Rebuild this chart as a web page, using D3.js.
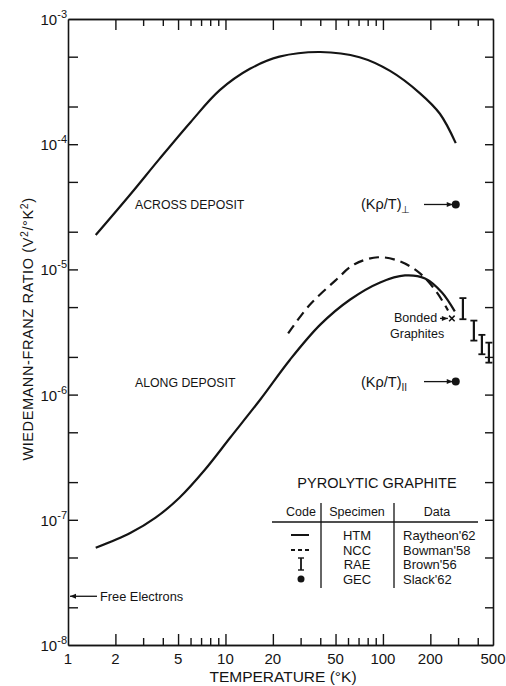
<!DOCTYPE html>
<html>
<head>
<meta charset="utf-8">
<script src="https://cdn.jsdelivr.net/npm/d3@7"></script>
<style>
  html, body { margin: 0; padding: 0; background: #fff; }
  svg { display: block; }
  text { font-family: "Liberation Sans", Arial, sans-serif; fill: #141414; }
</style>
</head>
<body>
<svg id="chart" width="506" height="686"></svg>
<script>
// Pyrolytic graphite: Wiedemann-Franz ratio vs temperature

// HTM (Raytheon '62), across the deposit
const T_ACROSS = [1.5, 2.5, 3.8, 6, 9.2, 14.3, 22, 40, 71, 111, 172, 230, 290];
const V_ACROSS = [1.88e-5, 4.0e-5, 7.6e-5, 1.5e-4, 2.7e-4, 4.0e-4, 5.0e-4, 5.45e-4, 4.95e-4, 3.85e-4, 2.55e-4, 1.75e-4, 1.02e-4];

// HTM (Raytheon '62), along the deposit
const T_ALONG = [1.5, 2.5, 3.6, 5.1, 7.4, 10.7, 16.6, 25.7, 40, 62, 96, 138, 185, 237, 286];
const V_ALONG = [5.97e-8, 7.87e-8, 1.04e-7, 1.5e-7, 2.51e-7, 4.52e-7, 9.1e-7, 1.9e-6, 3.62e-6, 5.75e-6, 7.87e-6, 8.95e-6, 8.47e-6, 6.55e-6, 4.62e-6];

// NCC (Bowman '58)
const T_NCC = [25, 34, 50, 66, 93, 128, 172, 220, 259];
const V_NCC = [3.08e-6, 5.15e-6, 8.17e-6, 1.1e-5, 1.25e-5, 1.16e-5, 9.3e-6, 6.55e-6, 4.7e-6];

// RAE (Brown '56), bonded graphites, with ranges
const T_RAE = [322, 378, 425, 471];
const V_RAE_HIGH = [5.9e-6, 3.9e-6, 3.0e-6, 2.6e-6];
const V_RAE_LOW = [4.0e-6, 2.7e-6, 2.1e-6, 1.8e-6];

// Bonded graphite point
const T_BONDED = [274];
const V_BONDED = [4.06e-6];

// GEC (Slack '62), (K rho / T) at room temperature
const T_GEC = [290, 290];
const V_GEC = [3.3e-5, 1.27e-6];

// Free-electron Lorenz number
const L_FREE = 2.45e-8;

// Axis ticks
const X_MAJOR = [2, 5, 10, 20, 50, 100, 200];
const X_MINOR = [3, 4, 6, 7, 8, 9, 30, 40, 60, 70, 80, 90, 300, 400];
const X_LABELS = [1, 2, 5, 10, 20, 50, 100, 200, 500];
const Y_TICKS = [2e-8, 5e-8, 1e-7, 2e-7, 5e-7, 1e-6, 2e-6, 5e-6, 1e-5, 2e-5, 5e-5, 1e-4, 2e-4, 5e-4];
const Y_LABEL_EXP = [-3, -4, -5, -6, -7, -8];

// Legend table
const LEGEND_CODES = ["solid", "dashed", "bar", "dot"];
const LEGEND_SPECIMEN = ["HTM", "NCC", "RAE", "GEC"];
const LEGEND_DATA = ["Raytheon'62", "Bowman'58", "Brown'56", "Slack'62"];

const INK = "#141414";
const svg = d3.select("#chart");

const x = d3.scaleLog().domain([1, 500]).range([68, 493]);
const y = d3.scaleLog().domain([1e-8, 1e-3]).range([645, 19]);

// ---- axes ----
function styleAxis(g) {
  g.selectAll("path.domain").attr("stroke", INK).attr("stroke-width", 1.6);
  g.selectAll(".tick line").attr("stroke", INK).attr("stroke-width", 1.4);
}

const axBottom = svg.append("g").attr("transform", `translate(0,${y.range()[0]})`);
axBottom.call(d3.axisBottom(x).tickValues(X_MINOR).tickSize(-7).tickSizeOuter(0).tickFormat(""));
styleAxis(axBottom);
const axBottomMajor = svg.append("g").attr("transform", `translate(0,${y.range()[0]})`);
axBottomMajor.call(d3.axisBottom(x).tickValues(X_MAJOR).tickSize(-11).tickSizeOuter(0).tickFormat(""));
styleAxis(axBottomMajor);

const axTop = svg.append("g").attr("transform", `translate(0,${y.range()[1]})`);
axTop.call(d3.axisTop(x).tickValues(X_MINOR).tickSize(-7).tickSizeOuter(0).tickFormat(""));
styleAxis(axTop);
const axTopMajor = svg.append("g").attr("transform", `translate(0,${y.range()[1]})`);
axTopMajor.call(d3.axisTop(x).tickValues(X_MAJOR).tickSize(-11).tickSizeOuter(0).tickFormat(""));
styleAxis(axTopMajor);

const axLeft = svg.append("g").attr("transform", `translate(${x.range()[0]},0)`);
axLeft.call(d3.axisLeft(y).tickValues(Y_TICKS).tickSize(-10).tickSizeOuter(0).tickFormat(""));
styleAxis(axLeft);

const axRight = svg.append("g").attr("transform", `translate(${x.range()[1]},0)`);
axRight.call(d3.axisRight(y).tickValues(Y_TICKS).tickSize(-8).tickSizeOuter(0).tickFormat(""));
styleAxis(axRight);

// x tick labels
svg.append("g").selectAll("text").data(X_LABELS).join("text")
  .attr("x", d => x(d)).attr("y", 664)
  .attr("text-anchor", "middle").attr("font-size", 15)
  .text(d => d);

// y tick labels with exponents
const yl = svg.append("g").selectAll("text").data(Y_LABEL_EXP).join("text")
  .attr("x", 67).attr("y", d => y(Math.pow(10, d)) + 6)
  .attr("text-anchor", "end").attr("font-size", 15);
yl.append("tspan").text("10");
yl.append("tspan").attr("dy", -7).attr("font-size", 11).text(d => d);

// axis titles
svg.append("text")
  .attr("x", 283).attr("y", 682).attr("text-anchor", "middle").attr("font-size", 15.5)
  .text("TEMPERATURE (°K)");

const yt = svg.append("text")
  .attr("transform", "translate(33,329) rotate(-90)")
  .attr("text-anchor", "middle").attr("font-size", 14.5).attr("letter-spacing", 0.6);
yt.append("tspan").text("WIEDEMANN-FRANZ RATIO  (V");
yt.append("tspan").attr("dy", -5).attr("font-size", 10.5).text("2");
yt.append("tspan").attr("dy", 5).text("/°K");
yt.append("tspan").attr("dy", -5).attr("font-size", 10.5).text("2");
yt.append("tspan").attr("dy", 5).text(")");

// ---- curves ----
const line = d3.line().x(d => x(d[0])).y(d => y(d[1])).curve(d3.curveCatmullRom.alpha(0.5));

svg.append("path").datum(d3.zip(T_ACROSS, V_ACROSS))
  .attr("d", line).attr("fill", "none").attr("stroke", INK).attr("stroke-width", 2.2);
svg.append("path").datum(d3.zip(T_ALONG, V_ALONG))
  .attr("d", line).attr("fill", "none").attr("stroke", INK).attr("stroke-width", 2.2);
svg.append("path").datum(d3.zip(T_NCC, V_NCC))
  .attr("d", line).attr("fill", "none").attr("stroke", INK).attr("stroke-width", 2.2)
  .attr("stroke-dasharray", "10,6");

// RAE bars
const bars = svg.append("g").selectAll("g").data(d3.range(T_RAE.length)).join("g");
bars.append("line")
  .attr("x1", i => x(T_RAE[i])).attr("x2", i => x(T_RAE[i]))
  .attr("y1", i => y(V_RAE_HIGH[i])).attr("y2", i => y(V_RAE_LOW[i]))
  .attr("stroke", INK).attr("stroke-width", 2.2);
bars.selectAll("line.cap").data(i => [[T_RAE[i], V_RAE_HIGH[i]], [T_RAE[i], V_RAE_LOW[i]]]).join("line")
  .attr("class", "cap")
  .attr("x1", d => x(d[0]) - 3.5).attr("x2", d => x(d[0]) + 3.5)
  .attr("y1", d => y(d[1])).attr("y2", d => y(d[1]))
  .attr("stroke", INK).attr("stroke-width", 1.8);

// Bonded graphite marker
svg.append("g").selectAll("path").data(d3.zip(T_BONDED, V_BONDED)).join("path")
  .attr("transform", d => `translate(${x(d[0])},${y(d[1])})`)
  .attr("d", d3.symbol(d3.symbolTimes, 22)).attr("stroke", INK).attr("stroke-width", 1.5).attr("fill", "none");

// GEC points
svg.append("g").selectAll("circle").data(d3.zip(T_GEC, V_GEC)).join("circle")
  .attr("cx", d => x(d[0])).attr("cy", d => y(d[1])).attr("r", 4).attr("fill", INK);

// ---- annotations ----
function arrow(x1, y1, x2, y2) {
  svg.append("line").attr("x1", x1).attr("y1", y1).attr("x2", x2).attr("y2", y2)
    .attr("stroke", INK).attr("stroke-width", 1.3);
  const dir = Math.sign(x2 - x1);
  svg.append("path")
    .attr("d", `M${x2},${y2} L${x2 - dir * 6},${y2 - 2.5} L${x2 - dir * 6},${y2 + 2.5} Z`)
    .attr("fill", INK);
}

svg.append("text").attr("x", 135).attr("y", y(3.3e-5) + 5).attr("font-size", 12.3).text("ACROSS DEPOSIT");
svg.append("text").attr("x", 135).attr("y", y(1.27e-6) + 5).attr("font-size", 12.3).text("ALONG DEPOSIT");

const kPerp = svg.append("text").attr("x", 361).attr("y", y(V_GEC[0]) + 5).attr("font-size", 14.5);
kPerp.append("tspan").text("(Kρ/T)");
kPerp.append("tspan").attr("dy", 4).attr("font-size", 10).text("⊥");
arrow(424, y(V_GEC[0]), x(T_GEC[0]) - 3, y(V_GEC[0]));

const kPar = svg.append("text").attr("x", 361).attr("y", y(V_GEC[1]) + 5).attr("font-size", 14.5);
kPar.append("tspan").text("(Kρ/T)");
kPar.append("tspan").attr("dy", 4).attr("font-size", 10).text("II");
arrow(424, y(V_GEC[1]), x(T_GEC[1]) - 3, y(V_GEC[1]));

svg.append("text").attr("x", 394).attr("y", y(V_BONDED[0]) + 4).attr("font-size", 12.5).text("Bonded");
svg.append("text").attr("x", 390).attr("y", y(V_BONDED[0]) + 20).attr("font-size", 12.5).text("Graphites");
arrow(440, y(V_BONDED[0]), x(T_BONDED[0]) - 4, y(V_BONDED[0]));

svg.append("text").attr("x", 100).attr("y", y(L_FREE) + 5).attr("font-size", 12.8).text("Free Electrons");
arrow(97, y(L_FREE), x(1) + 2, y(L_FREE));

// ---- legend table ----
const leg = svg.append("g");
leg.append("text").attr("x", 377).attr("y", 488).attr("text-anchor", "middle").attr("font-size", 14.5)
  .text("PYROLYTIC GRAPHITE");
const colX = [301, 357, 403];
leg.append("text").attr("x", colX[0]).attr("y", 516).attr("text-anchor", "middle").attr("font-size", 12.5).text("Code");
leg.append("text").attr("x", colX[1]).attr("y", 516).attr("text-anchor", "middle").attr("font-size", 12.5).text("Specimen");
leg.append("text").attr("x", 437).attr("y", 516).attr("text-anchor", "middle").attr("font-size", 12.5).text("Data");
leg.append("line").attr("x1", 272).attr("x2", 478).attr("y1", 522).attr("y2", 522).attr("stroke", INK).attr("stroke-width", 1.3);
[321, 394].forEach(sx => leg.append("line").attr("x1", sx).attr("x2", sx).attr("y1", 503).attr("y2", 588)
  .attr("stroke", INK).attr("stroke-width", 1.3));

const rowY = [535, 550, 564, 579];
leg.selectAll("text.spec").data(LEGEND_SPECIMEN).join("text").attr("class", "spec")
  .attr("x", colX[1]).attr("y", (d, i) => rowY[i] + 4.5).attr("text-anchor", "middle").attr("font-size", 13).text(d => d);
leg.selectAll("text.src").data(LEGEND_DATA).join("text").attr("class", "src")
  .attr("x", colX[2]).attr("y", (d, i) => rowY[i] + 4.5).attr("font-size", 13).text(d => d);

LEGEND_CODES.forEach((c, i) => {
  const cy = rowY[i];
  if (c === "solid" || c === "dashed") {
    leg.append("line").attr("x1", 291).attr("x2", 309).attr("y1", cy).attr("y2", cy)
      .attr("stroke", INK).attr("stroke-width", 2).attr("stroke-dasharray", c === "dashed" ? "4,3" : null);
  } else if (c === "bar") {
    leg.append("line").attr("x1", 301).attr("x2", 301).attr("y1", cy - 6).attr("y2", cy + 6).attr("stroke", INK).attr("stroke-width", 1.8);
    [-6, 6].forEach(o => leg.append("line").attr("x1", 298).attr("x2", 304).attr("y1", cy + o).attr("y2", cy + o).attr("stroke", INK).attr("stroke-width", 1.4));
  } else {
    leg.append("circle").attr("cx", 301).attr("cy", cy).attr("r", 3.5).attr("fill", INK);
  }
});
</script>
</body>
</html>
